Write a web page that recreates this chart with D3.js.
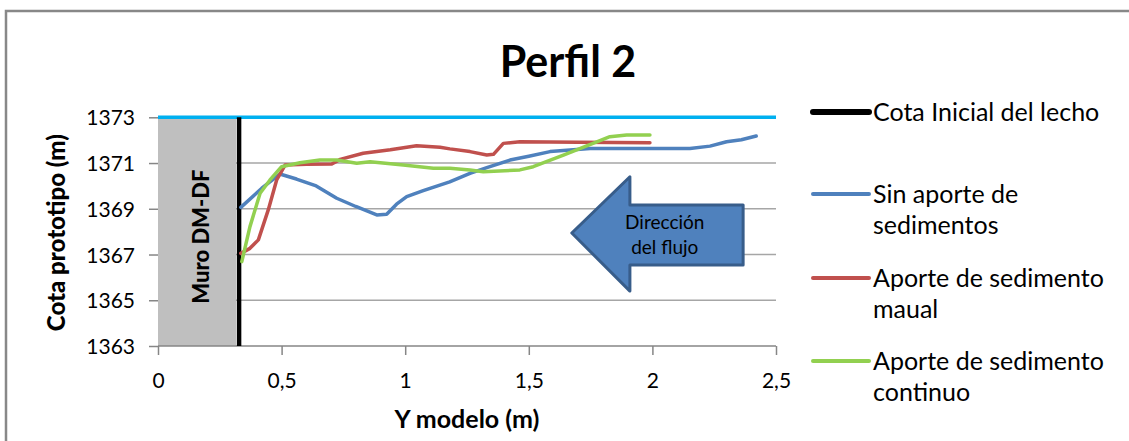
<!DOCTYPE html>
<html>
<head>
<meta charset="utf-8">
<script src="https://cdn.jsdelivr.net/npm/d3@7"></script>
<style>
  html, body { margin: 0; padding: 0; background: #fff; }
  svg text { font-family: Lato, "Open Sans", sans-serif; fill: #000; }
</style>
</head>
<body>
<div id="chart"></div>
<script>
// data
const xTicks = [0, 0.5, 1, 1.5, 2, 2.5];
const yTicks = [1363, 1365, 1367, 1369, 1371, 1373];

const cotaInicial = [[0, 1373], [2.5, 1373]];
const muroX = 0.328;

const sinAporte = [
  [0.335, 1369.06], [0.42, 1369.9], [0.493, 1370.52], [0.56, 1370.3], [0.64, 1370.0],
  [0.723, 1369.46], [0.80, 1369.1], [0.885, 1368.73], [0.925, 1368.76], [0.965, 1369.2],
  [1.006, 1369.53], [1.073, 1369.79], [1.18, 1370.18], [1.262, 1370.55], [1.33, 1370.8],
  [1.424, 1371.13], [1.50, 1371.3], [1.586, 1371.5], [1.748, 1371.64], [1.95, 1371.64],
  [2.152, 1371.64], [2.233, 1371.74], [2.30, 1371.93], [2.36, 1372.02], [2.42, 1372.18]
];

const aporteManual = [
  [0.335, 1367.05], [0.372, 1367.27], [0.406, 1367.64], [0.446, 1368.95], [0.48, 1370.26],
  [0.514, 1370.91], [0.60, 1370.95], [0.703, 1370.96], [0.737, 1371.16], [0.83, 1371.43],
  [0.94, 1371.58], [1.046, 1371.76], [1.141, 1371.69], [1.181, 1371.62], [1.262, 1371.5],
  [1.33, 1371.35], [1.357, 1371.38], [1.397, 1371.86], [1.464, 1371.93], [1.70, 1371.91],
  [1.99, 1371.89]
];

const aporteContinuo = [
  [0.339, 1366.69], [0.372, 1368.22], [0.413, 1369.68], [0.453, 1370.26], [0.50, 1370.84],
  [0.574, 1371.01], [0.655, 1371.13], [0.723, 1371.13], [0.804, 1370.99], [0.858, 1371.06],
  [0.992, 1370.91], [1.114, 1370.77], [1.181, 1370.77], [1.262, 1370.7], [1.316, 1370.62],
  [1.464, 1370.7], [1.518, 1370.84], [1.64, 1371.35], [1.775, 1371.93], [1.828, 1372.15],
  [1.896, 1372.23], [1.99, 1372.23]
];

// arrow annotation, in data units
const flechaPts = [
  [1.674, 1367.94], [1.909, 1370.4], [1.909, 1369.17], [2.367, 1369.17],
  [2.367, 1366.54], [1.909, 1366.54], [1.909, 1365.4]
];
const flechaTexto = ["Dirección", "del flujo"];

const series = [
  {name: ["Cota Inicial del lecho"], color: "#000000"},
  {name: ["Sin aporte de", "sedimentos"], color: "#4F81BD", data: sinAporte},
  {name: ["Aporte de sedimento", "maual"], color: "#C0504D", data: aporteManual},
  {name: ["Aporte de sedimento", "continuo"], color: "#92D050", data: aporteContinuo}
];
const legendY = [112, 194, 278, 361];

const W = 1129, H = 441;

const x = d3.scaleLinear().domain([0, 2.5]).range([158, 776]);
const y = d3.scaleLinear().domain([1363, 1373]).range([346, 117.3]);
const fmt = d => String(d).replace(".", ",");

const svg = d3.select("#chart").append("svg")
    .attr("width", W)
    .attr("height", H);

svg.append("rect")
    .attr("x", 6).attr("y", 11)
    .attr("width", W + 10).attr("height", H + 10)
    .attr("fill", "#fff")
    .attr("stroke", "#888")
    .attr("stroke-width", 2.5);

// title
svg.append("text")
    .attr("x", 568).attr("y", 77)
    .attr("text-anchor", "middle")
    .style("font-size", "43px")
    .style("font-weight", "bold")
    .text("Perfil 2");

// gridlines
svg.append("g")
    .selectAll("line")
    .data(yTicks.slice(1, -1))
    .enter().append("line")
    .attr("x1", x(0)).attr("x2", x(2.5))
    .attr("y1", d => y(d)).attr("y2", d => y(d))
    .attr("stroke", "#A6A6A6")
    .attr("stroke-width", 1.5);

// wall
svg.append("rect")
    .attr("x", x(0)).attr("y", y(1373))
    .attr("width", x(muroX) - x(0) - 3)
    .attr("height", y(1363) - y(1373))
    .attr("fill", "#BFBFBF");

svg.append("text")
    .attr("transform", "translate(" + (x(muroX / 2) + 10) + "," + (y(1368) + 5) + ") rotate(-90)")
    .attr("text-anchor", "middle")
    .style("font-size", "22px")
    .style("font-weight", "900")
    .text("Muro DM-DF");

// axes
const yAxis = d3.axisLeft(y).tickValues(yTicks).tickSize(9).tickPadding(14).tickFormat(d3.format("d"));
const gy = svg.append("g").attr("transform", "translate(" + x(0) + ",0)").call(yAxis);
gy.select(".domain").remove();

const xAxis = d3.axisBottom(x)
    .tickValues(xTicks).tickSize(9).tickPadding(14).tickFormat(fmt);
const gx = svg.append("g").attr("transform", "translate(0," + y(1363) + ")").call(xAxis);
gx.select(".domain").attr("d", "M" + x(0) + ",0H" + x(2.5));

[gx, gy].forEach(g => {
    g.selectAll("line, .domain").attr("stroke", "#868686").attr("stroke-width", 1.5);
    g.selectAll("text").style("font-size", "21px").attr("fill", "#000");
});
gx.selectAll("text").attr("dy", "0.9em");
gy.selectAll("text").attr("dy", "0.36em");

svg.append("text")
    .attr("x", 467).attr("y", 428)
    .attr("text-anchor", "middle")
    .style("font-size", "25px")
    .style("font-weight", "bold")
    .text("Y modelo (m)");

svg.append("text")
    .attr("transform", "translate(65," + (y(1368) + 1) + ") rotate(-90)")
    .attr("text-anchor", "middle")
    .style("font-size", "24px")
    .style("font-weight", "900")
    .text("Cota prototipo (m)");

// reference lines
const line = d3.line().x(d => x(d[0])).y(d => y(d[1]));

svg.append("path")
    .datum(cotaInicial)
    .attr("d", line)
    .attr("fill", "none")
    .attr("stroke", "#00B0F0")
    .attr("stroke-width", 3.5);

svg.append("line")
    .attr("x1", x(muroX)).attr("x2", x(muroX))
    .attr("y1", y(1373)).attr("y2", y(1363))
    .attr("stroke", "#000")
    .attr("stroke-width", 4.5);

// arrow
const flecha = svg.append("g");
flecha.append("path")
    .datum(flechaPts)
    .attr("d", d3.line().x(d => x(d[0])).y(d => y(d[1])).curve(d3.curveLinearClosed))
    .attr("fill", "#4F81BD")
    .attr("stroke", "#385D8A")
    .attr("stroke-width", 3)
    .attr("stroke-linejoin", "round");
flecha.selectAll("text")
    .data(flechaTexto)
    .enter().append("text")
    .attr("x", x(2.05))
    .attr("y", (d, i) => y(1367.9) + (i - 0.5) * 25 + 1)
    .attr("dy", "0.35em")
    .attr("text-anchor", "middle")
    .style("font-size", "19px")
    .text(d => d);

// series
svg.append("g")
    .selectAll("path")
    .data(series.filter(s => s.data))
    .enter().append("path")
    .attr("d", d => line(d.data))
    .attr("fill", "none")
    .attr("stroke", d => d.color)
    .attr("stroke-width", 3.5)
    .attr("stroke-linejoin", "round")
    .attr("stroke-linecap", "round");

// legend
const leg = svg.append("g")
    .selectAll("g")
    .data(series)
    .enter().append("g")
    .attr("transform", (d, i) => "translate(813," + legendY[i] + ")");

leg.append("line")
    .attr("x1", 0).attr("x2", 56)
    .attr("stroke", d => d.color)
    .attr("stroke-width", (d, i) => i === 0 ? 6 : 4)
    .attr("stroke-linecap", "round");

leg.append("text")
    .attr("x", 60)
    .style("font-size", "25px")
    .selectAll("tspan")
    .data(d => d.name)
    .enter().append("tspan")
    .attr("x", 60)
    .attr("y", (d, i) => i * 31)
    .attr("dy", "0.35em")
    .text(d => d);
</script>
</body>
</html>
